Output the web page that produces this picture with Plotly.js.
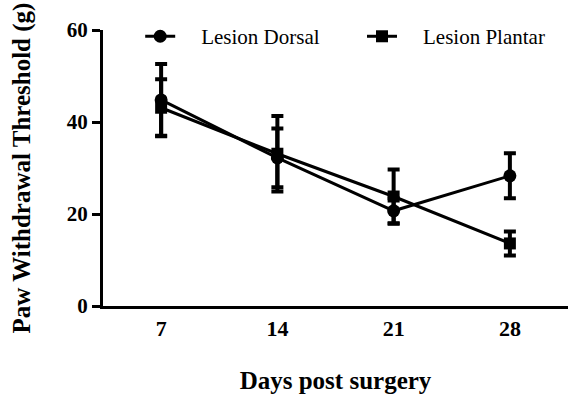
<!DOCTYPE html>
<html>
<head>
<meta charset="utf-8">
<script src="https://cdn.plot.ly/plotly-3.0.1.min.js"></script>
<style>html,body{margin:0;padding:0;background:#fff;}#chart{width:568px;height:394px;}</style>
</head>
<body>
<div id="chart"></div>
<script>
var days = [7, 14, 21, 28];
var dorsalMean = [44.8, 32.2, 20.7, 28.3];
var dorsalSem = [7.8, 6.4, 2.7, 4.9];
var plantarMean = [43.1, 33.1, 23.8, 13.6];
var plantarSem = [6.2, 8.2, 5.9, 2.6];
var xTickLabels = ['7', '14', '21', '28'];
var yTickVals = [0, 20, 40, 60];

var serif = 'Liberation Serif, Times New Roman, Times, serif';
var pad = '\u00A0\u00A0\u00A0\u00A0';

var traceDorsal = {
  x: days, y: dorsalMean, name: pad + 'Lesion Dorsal', legend: 'legend',
  type: 'scatter', mode: 'lines+markers',
  line: {color: '#000', width: 3},
  marker: {symbol: 'circle', size: 13, color: '#000'},
  error_y: {type: 'data', array: dorsalSem, visible: true, color: '#000', thickness: 4, width: 6}
};
var tracePlantar = {
  x: days, y: plantarMean, name: pad + 'Lesion Plantar', legend: 'legend2',
  type: 'scatter', mode: 'lines+markers',
  line: {color: '#000', width: 3},
  marker: {symbol: 'square', size: 12, color: '#000'},
  error_y: {type: 'data', array: plantarSem, visible: true, color: '#000', thickness: 4, width: 6}
};

var legendFont = {family: serif, size: 21, color: '#000'};

var layout = {
  width: 568, height: 394,
  margin: {l: 103, r: 0, t: 30, b: 88},
  paper_bgcolor: '#fff', plot_bgcolor: '#fff',
  font: {family: serif, color: '#000'},
  showlegend: true,
  legend: {
    orientation: 'h', x: 0.08, y: 0.976, xanchor: 'left', yanchor: 'middle',
    font: legendFont, bgcolor: 'rgba(0,0,0,0)'
  },
  legend2: {
    orientation: 'h', x: 0.557, y: 0.976, xanchor: 'left', yanchor: 'middle',
    font: legendFont, bgcolor: 'rgba(0,0,0,0)'
  },
  xaxis: {
    range: [3.5, 31.5],
    tickvals: days, ticktext: xTickLabels,
    showgrid: false, zeroline: false,
    showline: true, linecolor: '#000', linewidth: 3,
    ticks: 'outside', ticklen: 1, tickcolor: 'rgba(0,0,0,0)',
    tickfont: {family: serif, size: 22, color: '#000', weight: 'bold'},
    title: {text: 'Days post surgery', font: {family: serif, size: 25, color: '#000', weight: 'bold'}, standoff: 34},
    fixedrange: true
  },
  yaxis: {
    range: [0, 60],
    tickvals: yTickVals,
    showgrid: false, zeroline: false,
    showline: true, linecolor: '#000', linewidth: 3,
    ticks: 'outside', ticklen: 8, tickwidth: 3, tickcolor: '#000',
    tickfont: {family: serif, size: 21, color: '#000', weight: 'bold'},
    title: {text: 'Paw Withdrawal Threshold (g)', font: {family: serif, size: 25, color: '#000', weight: 'bold'}, standoff: 30},
    fixedrange: true
  }
};

Plotly.newPlot('chart', [traceDorsal, tracePlantar], layout, {staticPlot: true, displayModeBar: false});
</script>
</body>
</html>
